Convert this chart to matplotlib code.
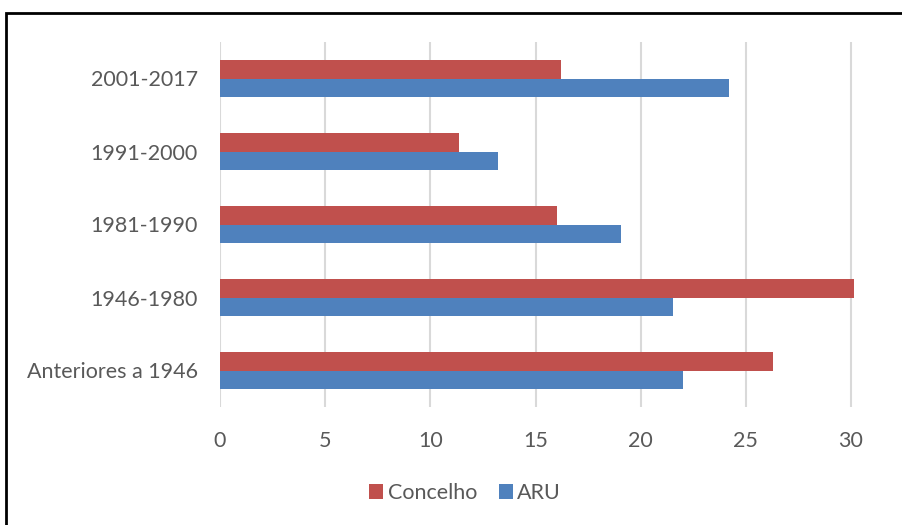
import numpy as np
import matplotlib.pyplot as plt
from matplotlib.patches import Rectangle

# Data
categories = ["Anteriores a 1946", "1946-1980", "1981-1990", "1991-2000", "2001-2017"]
concelho = [26.3, 30.15, 16.0, 11.35, 16.2]
aru = [22.0, 21.55, 19.05, 13.2, 24.2]
x_ticks = [0, 5, 10, 15, 20, 25, 30]

red = "#C0504D"
blue = "#4F81BD"
text_col = "#595959"

plt.rcParams["font.family"] = ["Lato", "DejaVu Sans"]

W, H = 902, 525
fig = plt.figure(figsize=(W / 100, H / 100), dpi=100)

# plot area in pixel coordinates: 0 -> x=220, 30 -> x=851
x0, x30 = 220, 851
xmax = 31
right = x0 + (x30 - x0) / 30 * xmax
top, bottom = 42, 407
ax = fig.add_axes([x0 / W, 1 - bottom / H, (right - x0) / W, (bottom - top) / H])

y = np.arange(len(categories))
h = 0.25
ax.barh(y + h / 2, concelho, height=h, color=red, label="Concelho", zorder=3)
ax.barh(y - h / 2, aru, height=h, color=blue, label="ARU", zorder=3)

ax.set_xlim(0, xmax)
ax.set_ylim(-0.5, len(categories) - 0.5)
ax.set_xticks(x_ticks)
ax.set_yticks(y)
ax.set_yticklabels(categories)
ax.grid(axis="x", color="#D9D9D9", linewidth=1.5, zorder=0)
for s in ax.spines.values():
    s.set_visible(False)
ax.tick_params(length=0, labelsize=15.5, colors=text_col)
ax.tick_params(axis="x", pad=17)
ax.tick_params(axis="y", pad=16)

handles, labels = ax.get_legend_handles_labels()
fig.legend(handles, labels, loc="center", bbox_to_anchor=(465 / W, 1 - 493 / H),
           ncol=2, frameon=False, fontsize=15.5, labelcolor=text_col,
           handlelength=0.65, handleheight=0.65, handletextpad=0.2, columnspacing=1.0)

# chart border (runs off the right and bottom edges)
fig.patches.append(Rectangle((6 / W, -0.1), 1.2, 1 - 13 / H + 0.1, transform=fig.transFigure,
                             fill=False, edgecolor="black", linewidth=2))

fig.savefig("out.png", dpi=100)
